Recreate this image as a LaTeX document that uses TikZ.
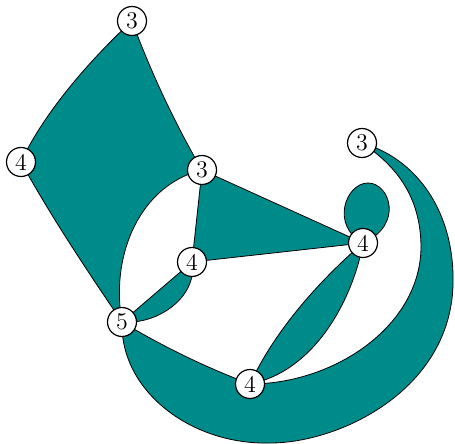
\documentclass[tikz,border=0pt]{standalone}
\usetikzlibrary{backgrounds}
\definecolor{facecol}{RGB}{0,139,139}

\begin{document}
\begin{tikzpicture}[x=0.5pt, y=-0.5pt, line width=1.1pt,
    vertex/.style={circle, draw, fill=white, line width=0.6pt, inner sep=0pt, minimum size=14.5pt, font=\large},
    face/.style={fill=facecol, draw=black, line join=round}]
  \useasboundingbox (0,0) rectangle (455,444);
  % vertices
  \node[vertex] (a) at (132,21) {3};
  \node[vertex] (b) at (21,162) {4};
  \node[vertex] (c) at (202,170) {3};
  \node[vertex] (d) at (192,262) {4};
  \node[vertex] (e) at (122,322) {5};
  \node[vertex] (f) at (363,243) {4};
  \node[vertex] (g) at (362,143) {3};
  \node[vertex] (h) at (250,384) {4};
  \begin{scope}[on background layer]
    % outer quadrilateral face
    \path[face] (a.center) .. controls (95,55) and (45,110) .. (b.center)
      .. controls (50,215) and (88,272) .. (e.center)
      .. controls (110,255) and (140,185) .. (c.center)
      .. controls (174,122) and (150,70) .. (a.center) -- cycle;
    % triangle
    \path[face] (c.center) -- (f.center) -- (d.center) -- cycle;
    % lens between 4 and 5
    \path[face] (d.center) -- (e.center)
      .. controls (160,325) and (198,295) .. (d.center) -- cycle;
    % lens between the two 4s
    \path[face] (f.center) .. controls (320,280) and (275,330) .. (h.center)
      .. controls (320,370) and (355,290) .. (f.center) -- cycle;
    % loop
    \path[face] (f.center) .. controls (330,225) and (346,183) .. (368,183)
      .. controls (390,183) and (404,225) .. (f.center) -- cycle;
    % band
    \path[face] (g.center) .. controls (415,158) and (455,210) .. (453,285)
      .. controls (450,390) and (340,443) .. (270,443)
      .. controls (190,445) and (120,390) .. (e.center)
      .. controls (167,349) and (210,369) .. (h.center)
      .. controls (335,384) and (422,325) .. (421,245)
      .. controls (420,195) and (395,165) .. (g.center) -- cycle;
  \end{scope}
\end{tikzpicture}
\end{document}
